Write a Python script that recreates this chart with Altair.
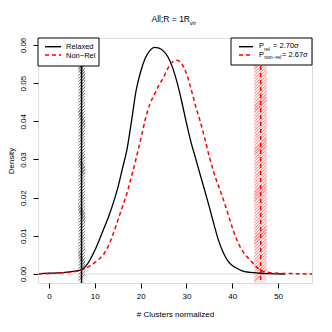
import altair as alt
import pandas as pd

# ---- data ----
rel_x = [-2.2, 0, 2, 4, 6, 7, 8, 9, 10, 11, 12, 13, 14, 15, 16, 17, 18, 19, 20, 21,
         22, 23, 24, 25, 26, 27, 28, 29, 30, 31, 32, 33, 34, 35, 36, 37, 38, 39, 40,
         41, 42, 44, 46, 48, 51.5]
rel_y = [0.0001, 0.0002, 0.0003, 0.0005, 0.0008, 0.0011, 0.0020, 0.0038, 0.0062, 0.0090,
         0.0120, 0.0150, 0.0185, 0.0225, 0.0275, 0.0325, 0.0400, 0.0480, 0.0530, 0.0565,
         0.0585, 0.0594, 0.0592, 0.0584, 0.0568, 0.0540, 0.0500, 0.0450, 0.0395, 0.0345,
         0.0303, 0.0260, 0.0218, 0.0175, 0.0130, 0.0088, 0.0057, 0.0035, 0.0022, 0.0015,
         0.0009, 0.0004, 0.0002, 0.0001, 0.0000]

non_x = [-2.2, 0, 2, 4, 6, 7, 8, 9, 10, 11, 12, 13, 14, 15, 16, 17, 18, 19, 20, 21,
         22, 23, 24, 25, 26, 27, 28, 29, 30, 31, 32, 33, 34, 35, 36, 37, 38, 39, 40,
         41, 42, 43, 44, 45, 46, 47, 48, 50, 53, 57.4]
non_y = [0.0000, 0.0001, 0.0002, 0.0004, 0.0007, 0.0010, 0.0015, 0.0022, 0.0030, 0.0040,
         0.0053, 0.0075, 0.0105, 0.0140, 0.0175, 0.0211, 0.0255, 0.0302, 0.0352, 0.0404,
         0.0445, 0.0470, 0.0495, 0.0515, 0.0540, 0.0556, 0.0560, 0.0550, 0.0525, 0.0485,
         0.0440, 0.0400, 0.0355, 0.0307, 0.0265, 0.0230, 0.0197, 0.0160, 0.0122, 0.0089,
         0.0065, 0.0048, 0.0035, 0.0022, 0.0011, 0.0006, 0.0004, 0.0002, 0.0001, 0.0000]

rel_obs = 7.1
rel_band = [6.4, 7.9]
non_obs = 46.2
non_band = [44.8, 47.5]

x_ticks = [0, 10, 20, 30, 40, 50]
y_ticks = [0.00, 0.01, 0.02, 0.03, 0.04, 0.05, 0.06]
legend_left = ["Relaxed", "Non\u2212Rel"]
p_rel = "2.70\u03c3"
p_non = "2.67\u03c3"

FONT = "Liberation Sans"
W, H = 274, 245
xdom = [-2.4, 57.4]
ydom = [-0.00236, 0.06183]

xs = alt.Scale(domain=xdom, nice=False, zero=False)
ys = alt.Scale(domain=ydom, nice=False, zero=False)


def hatch(line, bg, n=80, frac=0.4, ratio=0.04):
    stops = []
    for i in range(n):
        a = i / n
        b = (i + frac) / n
        c = (i + 1) / n
        stops += [{"offset": a, "color": line}, {"offset": b, "color": line},
                  {"offset": b, "color": bg}, {"offset": c, "color": bg}]
    return {"gradient": "linear", "x1": 0, "y1": 0, "x2": ratio, "y2": 1, "stops": stops}


rel_df = pd.DataFrame({"x": rel_x, "y": rel_y})
non_df = pd.DataFrame({"x": non_x, "y": non_y})
band_df = pd.DataFrame({"x": [rel_band[0], non_band[0]], "x2": [rel_band[1], non_band[1]],
                        "g": ["rel", "non"]})

xaxis = alt.Axis(values=x_ticks, format="d", title="# Clusters normalized", grid=False,
                 domain=False, tickColor="black", tickSize=5, labelPadding=4,
                 labelFont=FONT, labelFontSize=8, labelColor="black",
                 titleFont=FONT, titleFontSize=8, titleFontWeight="normal",
                 titleColor="black", titlePadding=10)
yaxis = alt.Axis(values=y_ticks, format=".2f", title="Density", grid=False,
                 domain=False, tickColor="black", tickSize=5, labelPadding=6,
                 labelAngle=-90, labelAlign="center", labelBaseline="bottom",
                 labelFont=FONT, labelFontSize=8, labelColor="black",
                 titleFont=FONT, titleFontSize=8, titleFontWeight="normal",
                 titleColor="black", titlePadding=4)

base_x = alt.X("x:Q", scale=xs, axis=xaxis)

zero_line = alt.Chart(pd.DataFrame({"y": [0.0]})).mark_rule(color="#dddddd", strokeWidth=1).encode(
    y=alt.Y("y:Q", scale=ys, axis=yaxis))

rel_rect = alt.Chart(band_df[band_df.g == "rel"]).mark_rect(
    fill=hatch("#8a8a8a", "#eeeeee", ratio=7.3 / 245)).encode(
    x=alt.X("x:Q", scale=xs, axis=xaxis), x2="x2:Q",
    y=alt.value(0), y2=alt.value(H))
non_rect = alt.Chart(band_df[band_df.g == "non"]).mark_rect(
    fill=hatch("#ff9a9a", "#ffe4e4", ratio=12.4 / 245)).encode(
    x=alt.X("x:Q", scale=xs, axis=xaxis), x2="x2:Q",
    y=alt.value(0), y2=alt.value(H))

rel_vline = alt.Chart(pd.DataFrame({"x": [rel_obs]})).mark_rule(color="black", strokeWidth=1.5).encode(
    x=alt.X("x:Q", scale=xs, axis=xaxis))
non_vline = alt.Chart(pd.DataFrame({"x": [non_obs]})).mark_rule(
    color="red", strokeWidth=1.5, strokeDash=[4, 3]).encode(
    x=alt.X("x:Q", scale=xs, axis=xaxis))

rel_line = alt.Chart(rel_df).mark_line(color="black", strokeWidth=1.3, interpolate="monotone").encode(
    x=base_x, y=alt.Y("y:Q", scale=ys, axis=yaxis))
non_line = alt.Chart(non_df).mark_line(color="red", strokeWidth=1.5, strokeDash=[4, 3],
                                       interpolate="monotone").encode(
    x=base_x, y=alt.Y("y:Q", scale=ys, axis=yaxis))

dummy = pd.DataFrame({"a": [0]})


def box(x0, x1, y0, y1):
    return alt.Chart(dummy).mark_rect(fill="white", stroke="black", strokeWidth=1).encode(
        x=alt.value(x0), x2=alt.value(x1), y=alt.value(y0), y2=alt.value(y1))


def seg(x0, x1, y, color, dash=None):
    kw = dict(color=color, strokeWidth=1.4)
    if dash:
        kw["strokeDash"] = dash
    return alt.Chart(dummy).mark_rule(**kw).encode(
        x=alt.value(x0), x2=alt.value(x1), y=alt.value(y))


def txt(s, x, y, size=7.5, baseline="middle"):
    return alt.Chart(dummy).mark_text(text=s, align="left", baseline=baseline, font=FONT,
                                      fontSize=size, color="black").encode(
        x=alt.value(x), y=alt.value(y))


legend = [
    box(0, 61, 0, 28),
    seg(7, 23, 8.7, "black"),
    seg(7, 23, 17, "red", [4, 3]),
    txt(legend_left[0], 28, 8.7),
    txt(legend_left[1], 28, 17.5),
    box(193, W, 0, 27),
    seg(201, 215, 8.7, "black"),
    seg(201, 215, 17, "red", [4, 3]),
    txt("P", 221, 8.2),
    txt("rel", 226.3, 10.8, size=5),
    txt("= " + p_rel, 235, 8.2),
    txt("P", 221, 16.8),
    txt("non\u2212rel", 226.3, 19.4, size=5),
    txt("= " + p_non, 244, 16.8),
    txt("All;R = 1R", 113.5, -19, size=8.5),
    txt("vir", 151.8, -15.5, size=6),
]

chart = alt.layer(zero_line, rel_rect, non_rect, rel_vline, non_vline, rel_line, non_line,
                  *legend).properties(
    width=W, height=H,
    autosize=alt.AutoSizeParams(type="none"),
    padding={"left": 30, "top": 30, "right": 12, "bottom": 41},
).configure_view(stroke="black", strokeWidth=1).configure(background="white")

chart.save("out.html", embed_options={"renderer": "svg", "actions": False})
